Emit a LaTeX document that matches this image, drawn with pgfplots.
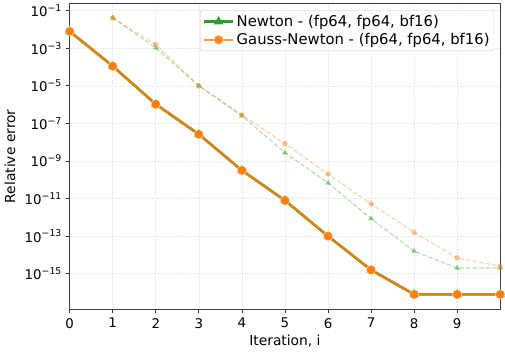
\documentclass[border=0pt]{standalone}
\usepackage{pgfplots}
\pgfplotsset{compat=1.18}
\usepackage{fontspec}
\setmainfont{DejaVu Sans}
\definecolor{mgreen}{HTML}{2CA02C}
\definecolor{morange}{HTML}{FF7F0E}
\begin{document}
\fontsize{14}{16}\selectfont
\begin{tikzpicture}
\begin{axis}[
  scale only axis,
  width=436pt, height=310pt,
  ymode=log,
  xmin=0, xmax=10, ymin=1.26e-17, ymax=2.5e-1,
  xtick={0,...,9},
  ytick={1e-1,1e-3,1e-5,1e-7,1e-9,1e-11,1e-13,1e-15},
  yticklabels={10\textsuperscript{−1},10\textsuperscript{−3},10\textsuperscript{−5},10\textsuperscript{−7},10\textsuperscript{−9},10\textsuperscript{−11},10\textsuperscript{−13},10\textsuperscript{−15}},
  /pgf/number format/assume math mode=true,
  ticklabel style={font=\fontsize{13.5}{15}\selectfont},
  yticklabel style={xshift=1pt},
  label style={font=\fontsize{14}{16}\selectfont},
  minor tick num=0,
  yminorticks=false,
  tick align=outside, tick pos=left,
  major tick length=4pt,
  tick style={black!80, line width=0.7pt},
  axis line style={black!75, line width=0.9pt},
  grid=major,
  major grid style={gray!18, line width=0.6pt, densely dotted},
  xlabel={Iteration, i},
  ylabel={Relative error},
  xlabel style={yshift=3pt},
  ylabel style={yshift=0pt},
  legend style={at={(0.986,0.977)}, anchor=north east, draw=black!20, rounded corners=2pt, fill=white, fill opacity=0.9, text opacity=1, font=\fontsize{15}{17}\selectfont, row sep=1pt, inner sep=2.5pt},
  legend cell align=left,
  legend image code/.code={
    \draw[mark repeat=2,mark phase=2,#1] plot coordinates {(0pt,0pt) (15pt,0pt) (30pt,0pt)};
  },
]
% dashed bf16 runs
\addplot[mgreen, opacity=0.35, dash pattern=on 4.5pt off 2.2pt, line width=1.2pt, mark=triangle*, mark size=2.4pt, mark options={solid}, forget plot]
  table[y expr=10^\thisrowno{1}] {
1 -1.38
2 -2.98
3 -5.0
4 -6.6
5 -8.56
6 -10.17
7 -12.07
8 -13.8
9 -14.7
10 -14.7
};
\addplot[morange, opacity=0.35, dash pattern=on 4.5pt off 2.2pt, line width=1.2pt, mark=*, mark size=2.2pt, mark options={solid}, forget plot]
  table[y expr=10^\thisrowno{1}] {
1 -1.38
2 -2.8
3 -5.0
4 -6.55
5 -8.08
6 -9.7
7 -11.28
8 -12.8
9 -14.16
10 -14.6
};
% solid
\addplot[mgreen, line width=2.6pt, mark=triangle*, mark size=2.9pt]
  table[y expr=10^\thisrowno{1}] {
0 -2.1
1 -3.95
2 -5.98
3 -7.58
4 -9.5
5 -11.1
6 -13.0
7 -14.8
8 -16.1
9 -16.1
10 -16.1
};
\addlegendentry{Newton - (fp64, fp64, bf16)}
\addplot[morange, draw opacity=0.8, line width=2.6pt, mark=*, mark size=4.8pt, mark options={fill=morange, draw=white, line width=0.5pt, draw opacity=0.7}]
  table[y expr=10^\thisrowno{1}] {
0 -2.1
1 -3.95
2 -5.98
3 -7.58
4 -9.5
5 -11.1
6 -13.0
7 -14.8
8 -16.1
9 -16.1
10 -16.1
};
\addlegendentry{Gauss-Newton - (fp64, fp64, bf16)}
\end{axis}
\end{tikzpicture}
\end{document}
